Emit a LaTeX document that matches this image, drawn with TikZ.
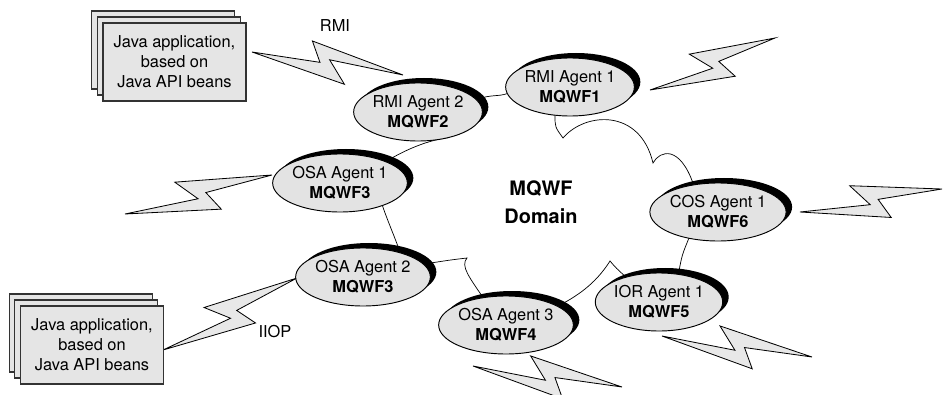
\documentclass[tikz,border=0pt]{standalone}
\usepackage{fontspec}
\setmainfont{TeX Gyre Heros}
\usetikzlibrary{positioning}
\usetikzlibrary{shapes,backgrounds,shadows,calc}
\newcommand{\agentfont}{\fontsize{14}{17}\selectfont}
\newcommand{\domainfont}{\fontsize{17}{24}\selectfont\bfseries}
% lightning from #1 to #2
\newcommand{\zap}[2]{%
  \draw[bolt] (#1) -- ($(#1)!0.49!(#2)!0.12cm!-90:(#2)$)
    -- ($(#1)!0.37!(#2)!0.54cm!90:(#2)$) -- (#2)
    -- ($(#1)!0.55!(#2)$) -- ($(#1)!0.62!(#2)!0.6cm!-90:(#2)$) -- cycle;}

\begin{document}
\begin{tikzpicture}[x=0.03cm, y=-0.03cm, outer sep=0pt]
\tikzstyle{agent}=[
                  draw=black,
                  line width=0.8pt,
                  ellipse,
                  fill=black!11,
                  minimum width=3.72cm,
                  minimum height=1.74cm,
                  inner sep=0pt,
                  align=center,
                  font=\agentfont,
                  general shadow={fill=black, shadow xshift=0.18cm, shadow yshift=0.15cm}]

\tikzstyle{app}=[
                  draw=black!80,
                  line width=1.1pt,
                  rectangle,
                  fill=black!10,
                  minimum width=4.29cm,
                  minimum height=2.34cm,
                  align=center,
                  font=\agentfont,
                  general shadow={fill=black!10, draw=black!80, line width=1.1pt,
                                  shadow xshift=-0.34cm, shadow yshift=0.36cm},
                  general shadow={fill=black!10, draw=black!80, line width=1.1pt,
                                  shadow xshift=-0.17cm, shadow yshift=0.18cm}]

\tikzstyle{bolt}=[draw=black, line width=0.7pt, fill=black!9, line join=miter]
\tikzstyle{ring}=[draw=black, line width=0.6pt]

\useasboundingbox (0,0) rectangle (943,395);

\coordinate (rmiA)  at (403,75);
\coordinate (rmiB)  at (252,52);
\coordinate (nwA)   at (650,90);
\coordinate (nwB)   at (775,38);
\coordinate (osaA)  at (125,214);
\coordinate (osaB)  at (272,175);
\coordinate (cosA)  at (800,212);
\coordinate (cosB)  at (942,189);
\coordinate (iiopA) at (163,350);
\coordinate (iiopB) at (297,278);
\coordinate (swA)   at (473,366);
\coordinate (swB)   at (622,387);
\coordinate (iorA)  at (662,336);
\coordinate (iorB)  at (812,357);

\zap{rmiA}{rmiB}
\zap{nwA}{nwB}
\zap{osaA}{osaB}
\zap{cosA}{cosB}
\zap{iiopA}{iiopB}
\zap{swA}{swB}
\zap{iorA}{iorB}

\node[app] (javatop) at (174.5,62) {Java application,\\based on\\Java API beans};
\node[app] (javabot) at (92,345)   {Java application,\\based on\\Java API beans};

\node[agent] (rmi2) at (418,112) {RMI Agent 2\\\textbf{MQWF2}};
\node[agent] (rmi1) at (570,87)  {RMI Agent 1\\\textbf{MQWF1}};
\node[agent] (osa1) at (340,183) {OSA Agent 1\\\textbf{MQWF3}};
\node[agent] (cos)  at (718,212) {COS Agent 1\\\textbf{MQWF6}};
\node[agent] (osa2) at (363,277) {OSA Agent 2\\\textbf{MQWF3}};
\node[agent] (osa3) at (506,325) {OSA Agent 3\\\textbf{MQWF4}};
\node[agent] (ior)  at (659,302) {IOR Agent 1\\\textbf{MQWF5}};

\node[font=\domainfont, align=center] (domain) at (541,202) {MQWF\\Domain};
\node[font=\agentfont] (rmilbl)  at (335,26)  {RMI};
\node[font=\agentfont] (iioplbl) at (275,332) {IIOP};

\coordinate (k1) at (563,138);
\coordinate (k2) at (653,163);
\coordinate (k3) at (610,261);
\coordinate (k4) at (467,258);

\begin{pgfonlayer}{background}
\draw[ring] (rmi2.12) .. controls (492,94) and (497,97) .. (rmi1.186);
\draw[ring] (rmi1.242) .. controls (555,127) .. (k1)
            .. controls (585,112) and (640,108) .. (k2)
            .. controls (660,150) and (680,145) .. (cos.132);
\draw[ring] (cos.222) .. controls (682,255) .. (ior.55);
\draw[ring] (ior.143) .. controls (616,268) .. (k3)
            .. controls (598,280) and (582,294) .. (osa3.20);
\draw[ring] (osa3.130) .. controls (470,278) and (460,266) .. (k4)
            .. controls (450,260) .. (osa2.12);
\draw[ring] (osa2.33) .. controls (396,240) and (388,222) .. (osa1.-28);
\draw[ring] (osa1.25) .. controls (408,148) and (430,140) .. (rmi2.-40);
\end{pgfonlayer}

\end{tikzpicture}
\end{document}
